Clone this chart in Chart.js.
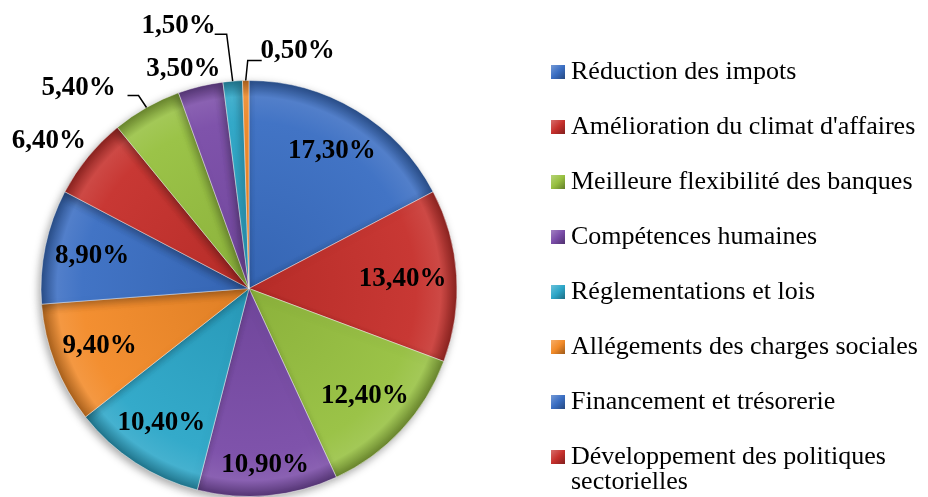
<!DOCTYPE html>
<html>
<head>
<meta charset="utf-8">
<script src="https://cdn.jsdelivr.net/npm/chart.js@4.4.1/dist/chart.umd.min.js"></script>
<style>
  html, body { margin: 0; padding: 0; background: #fff; }
</style>
</head>
<body>
<canvas id="pieChart" width="928" height="497"></canvas>
<script>
const categories = [
  'Réduction des impots',
  "Amélioration du climat d'affaires",
  'Meilleure flexibilité des banques',
  'Compétences humaines',
  'Réglementations et lois',
  'Allégements des charges sociales',
  'Financement et trésorerie',
  'Développement des politiques sectorielles',
  'Infrastructures',
  'Accès au foncier',
  "Lutte contre l'informel",
  'Autres'
];
const shares = [17.3, 13.4, 12.4, 10.9, 10.4, 9.4, 8.9, 6.4, 5.4, 3.5, 1.5, 0.5];
const legendShown = 8;

const baseColors = ['#3a6ec3', '#c6302c', '#97c040', '#7a4ca8', '#2ca6c8', '#f28a28'];
const colorFor = i => baseColors[i % baseColors.length];

// label placement: inside at a fraction of radius, outside relative to the arc edge point
const labelLayout = [
  { k: 0.77 }, { k: 0.74 }, { k: 0.76 }, { k: 0.85 }, { k: 0.77 }, { k: 0.77 }, { k: 0.77 },
  { dx: -39, dy: -16 },
  { dx: -68, dy: -19, line: [[-8, -12], [-19, -12]] },
  { dx: -17, dy: -17 },
  { dx: -54, dy: -55, line: [[-6, -47], [-18, -47]] },
  { dx: 52, dy: -29, line: [[2, -20], [16, -20]] }
];

function shade(hex, amt) {
  const n = parseInt(hex.slice(1), 16);
  const r = n >> 16, g = (n >> 8) & 255, b = n & 255;
  const f = v => Math.max(0, Math.min(255, Math.round(amt >= 0 ? v + (255 - v) * amt : v * (1 + amt))));
  return 'rgb(' + f(r) + ',' + f(g) + ',' + f(b) + ')';
}

function sliceFill(context) {
  const chart = context.chart;
  const area = chart.chartArea;
  const c = colorFor(context.dataIndex);
  if (!area) return c;
  const cx = (area.left + area.right) / 2;
  const cy = (area.top + area.bottom) / 2;
  const r = Math.min(area.right - area.left, area.bottom - area.top) / 2;
  const g = chart.ctx.createRadialGradient(cx, cy, 0, cx, cy, r);
  g.addColorStop(0, shade(c, -0.08));
  g.addColorStop(0.8, shade(c, 0.04));
  g.addColorStop(0.92, shade(c, 0.12));
  g.addColorStop(1, shade(c, -0.32));
  return g;
}

const pctText = v => v.toFixed(2).replace('.', ',') + '%';

const labelPlugin = {
  id: 'sliceLabels',
  beforeDatasetsDraw(chart) {
    const ctx = chart.ctx;
    ctx.save();
    ctx.shadowColor = 'rgba(0,0,0,0.35)';
    ctx.shadowBlur = 8;
    ctx.shadowOffsetX = -2;
    ctx.shadowOffsetY = 3;
  },
  afterDatasetsDraw(chart) {
    const ctx = chart.ctx;
    ctx.restore();
    const meta = chart.getDatasetMeta(0);
    ctx.save();
    ctx.font = 'bold 27px "Liberation Serif", "Times New Roman", serif';
    ctx.fillStyle = '#000';
    ctx.textAlign = 'center';
    ctx.textBaseline = 'middle';
    ctx.strokeStyle = '#000';
    ctx.lineWidth = 1.5;
    meta.data.forEach((arc, i) => {
      const p = arc.getProps(['x', 'y', 'startAngle', 'endAngle', 'outerRadius'], true);
      const mid = (p.startAngle + p.endAngle) / 2;
      const lay = labelLayout[i];
      let lx, ly;
      if (lay.k !== undefined) {
        lx = p.x + Math.cos(mid) * p.outerRadius * lay.k;
        ly = p.y + Math.sin(mid) * p.outerRadius * lay.k;
      } else {
        const ex = p.x + Math.cos(mid) * p.outerRadius;
        const ey = p.y + Math.sin(mid) * p.outerRadius;
        lx = ex + lay.dx;
        ly = ey + lay.dy;
        if (lay.line) {
          ctx.beginPath();
          ctx.moveTo(ex, ey);
          lay.line.forEach(pt => ctx.lineTo(ex + pt[0], ey + pt[1]));
          ctx.stroke();
        }
      }
      ctx.fillText(pctText(shares[i]), lx, ly);
    });
    ctx.restore();
  }
};

// legend drawn on the canvas, right side, only the entries visible in the reference
const legendPlugin = {
  id: 'sideLegend',
  afterDraw(chart) {
    const ctx = chart.ctx;
    const x0 = 551, y0 = 72, step = 55, maxW = 362, lineH = 25;
    ctx.save();
    ctx.font = '26px "Liberation Serif", "Times New Roman", serif';
    ctx.textBaseline = 'middle';
    ctx.textAlign = 'left';
    for (let i = 0; i < legendShown; i++) {
      const y = y0 + i * step;
      const c = colorFor(i);
      const g = ctx.createLinearGradient(x0, y - 7, x0 + 14, y + 7);
      g.addColorStop(0, shade(c, 0.3));
      g.addColorStop(0.5, c);
      g.addColorStop(1, shade(c, -0.35));
      ctx.fillStyle = g;
      ctx.fillRect(x0, y - 7, 14, 14);
      ctx.fillStyle = '#000';
      const words = chart.data.labels[i].split(' ');
      let line = '', ly = y;
      words.forEach(w => {
        const test = line ? line + ' ' + w : w;
        if (ctx.measureText(test).width > maxW && line) {
          ctx.fillText(line, x0 + 20, ly);
          line = w;
          ly += lineH;
        } else {
          line = test;
        }
      });
      ctx.fillText(line, x0 + 20, ly);
    }
    ctx.restore();
  }
};

new Chart(document.getElementById('pieChart'), {
  type: 'pie',
  data: {
    labels: categories,
    datasets: [{
      data: shares,
      backgroundColor: sliceFill,
      borderColor: 'rgba(255,255,255,0.45)',
      borderWidth: 1
    }]
  },
  options: {
    responsive: false,
    animation: false,
    layout: { padding: { left: 40, top: 80, right: 470, bottom: 0 } },
    plugins: {
      legend: { display: false },
      tooltip: { enabled: false }
    }
  },
  plugins: [labelPlugin, legendPlugin]
});
</script>
</body>
</html>
